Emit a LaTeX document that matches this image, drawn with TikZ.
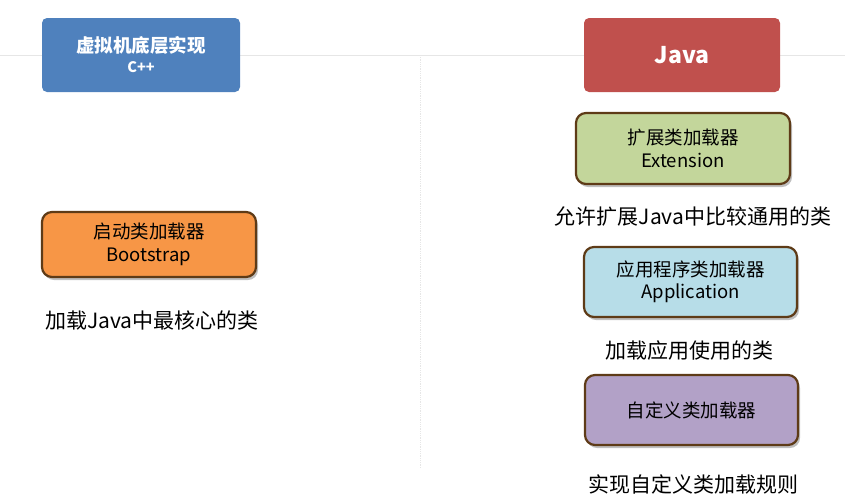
\documentclass[tikz,border=0pt]{standalone}
\usepackage{fontspec}
\setmainfont{Noto Sans CJK SC}
\usetikzlibrary{shadows}
\definecolor{hdrblue}{HTML}{4F81BD}
\definecolor{hdrred}{HTML}{C0504D}
\definecolor{extgreen}{HTML}{C3D69B}
\definecolor{bootorange}{HTML}{F79646}
\definecolor{appblue}{HTML}{B7DDE8}
\definecolor{custpurple}{HTML}{B2A1C7}
\definecolor{brownedge}{HTML}{5E3B17}
\definecolor{guide}{HTML}{E6E6E6}
\tikzset{
  hdrbox/.style={rounded corners=5pt, draw=none, text=white, font=\bfseries\fontsize{18.5}{22}\selectfont, align=center, inner sep=0pt},
  loaderbox/.style={rounded corners=10pt, draw=brownedge, line width=2.2pt, align=center, inner sep=0pt,
    font=\fontsize{18.5}{22.5}\selectfont,
    drop shadow={shadow xshift=2pt, shadow yshift=-3pt, fill=black, opacity=0.25}},
  caption/.style={font=\fontsize{21}{25}\selectfont, inner sep=0pt}
}
\begin{document}
\begin{tikzpicture}[x=1pt,y=-1pt]
\useasboundingbox (0,0) rectangle (845,499);
% guide lines
\coordinate (hl) at (0,55);
\coordinate (hr) at (845,55);
\coordinate (vt) at (420,55);
\coordinate (vb) at (420,468);
\draw[guide, line width=0.8pt] (hl) -- (hr);
\draw[guide, line width=0.8pt, densely dotted] (vt) -- (vb);
% header boxes
\node[hdrbox, fill=hdrblue, minimum width=198pt, minimum height=74pt] (vm) at (141,55)
  {虚拟机底层实现\\[-2pt]{\fontsize{14.5}{17}\selectfont C++}};
\node[hdrbox, fill=hdrred, minimum width=196pt, minimum height=74pt, font=\bfseries\fontsize{23}{26}\selectfont] (java) at (682,55) {Java};
% loaders
\node[loaderbox, fill=bootorange, minimum width=214pt, minimum height=65pt] (boot) at (149,244.5)
  {启动类加载器\\Bootstrap};
\node[caption] (bootc) at (152,320) {加载Java中最核心的类};
\node[loaderbox, fill=extgreen, minimum width=214pt, minimum height=71pt] (ext) at (683,148.5)
  {扩展类加载器\\Extension};
\node[caption] (extc) at (693,216) {允许扩展Java中比较通用的类};
\node[loaderbox, fill=appblue, minimum width=213pt, minimum height=70pt] (app) at (690.5,282)
  {应用程序类加载器\\Application};
\node[caption] (appc) at (689,350) {加载应用使用的类};
\node[loaderbox, fill=custpurple, minimum width=213pt, minimum height=70pt] (cust) at (691.5,410)
  {自定义类加载器};
\node[caption] (custc) at (693,484) {实现自定义类加载规则};
\end{tikzpicture}
\end{document}
